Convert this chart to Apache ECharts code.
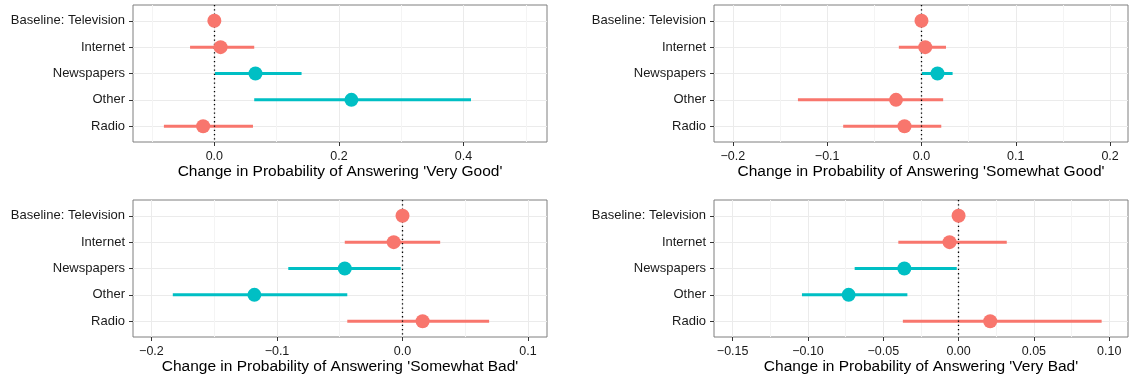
<!DOCTYPE html>
<html>
<head>
<meta charset="utf-8">
<script src="https://cdn.jsdelivr.net/npm/echarts@6/dist/echarts.min.js"></script>
<style>
  html, body { margin: 0; padding: 0; background: #ffffff; }
  #chart { width: 1132px; height: 379px; }
</style>
</head>
<body>
<div id="chart"></div>
<script>
// ---- Data ----
const categories = ['Baseline: Television', 'Internet', 'Newspapers', 'Other', 'Radio'];

const veryGoodEst  = [0, 0.010, 0.066, 0.220, -0.018];
const veryGoodLow  = [0, -0.039, 0.001, 0.064, -0.081];
const veryGoodHigh = [0, 0.064, 0.140, 0.412, 0.062];

const somewhatGoodEst  = [0, 0.004, 0.017, -0.027, -0.018];
const somewhatGoodLow  = [0, -0.024, 0.0005, -0.131, -0.083];
const somewhatGoodHigh = [0, 0.026, 0.033, 0.023, 0.021];

const somewhatBadEst  = [0, -0.007, -0.046, -0.118, 0.016];
const somewhatBadLow  = [0, -0.046, -0.091, -0.183, -0.044];
const somewhatBadHigh = [0, 0.030, -0.0015, -0.044, 0.069];

const veryBadEst  = [0, -0.006, -0.036, -0.073, 0.021];
const veryBadLow  = [0, -0.040, -0.069, -0.104, -0.037];
const veryBadHigh = [0, 0.032, -0.0012, -0.034, 0.095];

// axis limits and tick labels
const veryGoodRange = [-0.1306, 0.534];
const veryGoodTicks = [0, 0.2, 0.4];
const veryGoodMinor = [-0.1, 0.1, 0.3, 0.5];

const somewhatGoodRange = [-0.22, 0.219];
const somewhatGoodTicks = [-0.2, -0.1, 0, 0.1, 0.2];
const somewhatGoodMinor = [-0.15, -0.05, 0.05, 0.15];

const somewhatBadRange = [-0.2147, 0.1151];
const somewhatBadTicks = [-0.2, -0.1, 0, 0.1];
const somewhatBadMinor = [-0.15, -0.05, 0.05];

const veryBadRange = [-0.1624, 0.1125];
const veryBadTicks = [-0.15, -0.10, -0.05, 0, 0.05, 0.10];
const veryBadMinor = [-0.125, -0.075, -0.025, 0.025, 0.075];

const titles = [
  "Change in Probability of Answering 'Very Good'",
  "Change in Probability of Answering 'Somewhat Good'",
  "Change in Probability of Answering 'Somewhat Bad'",
  "Change in Probability of Answering 'Very Bad'"
];

// ---- Build chart ----
const panels = [
  { est: veryGoodEst, low: veryGoodLow, high: veryGoodHigh, range: veryGoodRange, ticks: veryGoodTicks, minor: veryGoodMinor, dec: 1 },
  { est: somewhatGoodEst, low: somewhatGoodLow, high: somewhatGoodHigh, range: somewhatGoodRange, ticks: somewhatGoodTicks, minor: somewhatGoodMinor, dec: 1 },
  { est: somewhatBadEst, low: somewhatBadLow, high: somewhatBadHigh, range: somewhatBadRange, ticks: somewhatBadTicks, minor: somewhatBadMinor, dec: 1 },
  { est: veryBadEst, low: veryBadLow, high: veryBadHigh, range: veryBadRange, ticks: veryBadTicks, minor: veryBadMinor, dec: 2 }
];

const layout = [
  { left: 133, top: 5, width: 414, height: 137 },
  { left: 714, top: 5, width: 414, height: 137 },
  { left: 133, top: 200, width: 414, height: 137 },
  { left: 714, top: 200, width: 414, height: 137 }
];

const RED = '#F8766D', TEAL = '#00BFC4';
const FONT = 'Liberation Sans, Arial, Helvetica, sans-serif';
const colorOf = (p, i) => (p.low[i] > 0 || p.high[i] < 0) ? TEAL : RED;
const fmt = d => v => (v < -1e-9 ? '\u2212' : '') + Math.abs(v).toFixed(d);

const grid = [], xAxis = [], yAxis = [], series = [];
const catIdx = categories.map((c, i) => i);

panels.forEach((p, k) => {
  grid.push(Object.assign({ show: true, borderColor: '#7F7F7F', borderWidth: 1, backgroundColor: '#ffffff', containLabel: false }, layout[k]));
  // major x axis
  xAxis.push({
    type: 'value', gridIndex: k, min: p.range[0], max: p.range[1], position: 'bottom',
    name: titles[k], nameLocation: 'middle', nameGap: 22,
    nameTextStyle: { fontFamily: FONT, fontSize: 15.5, color: '#000' },
    axisLine: { show: false, onZero: false },
    axisTick: { show: true, length: 4, lineStyle: { color: '#333333' }, customValues: p.ticks },
    axisLabel: { show: true, customValues: p.ticks, formatter: fmt(p.dec), fontFamily: FONT, fontSize: 12.5, color: '#1A1A1A', margin: 8 },
    splitLine: { show: true, lineStyle: { color: '#EBEBEB', width: 1 } }
  });
  // minor grid x axis
  xAxis.push({
    type: 'value', gridIndex: k, min: p.range[0], max: p.range[1], position: 'bottom',
    axisLine: { show: false, onZero: false },
    axisTick: { show: false, customValues: p.minor },
    axisLabel: { show: false },
    splitLine: { show: true, lineStyle: { color: '#F4F4F4', width: 1 } }
  });
  yAxis.push({
    type: 'value', gridIndex: k, min: -0.6, max: categories.length - 0.4, inverse: true, position: 'left',
    axisLine: { show: false, onZero: false },
    axisTick: { show: true, length: 4, lineStyle: { color: '#333333' }, customValues: catIdx },
    axisLabel: { show: true, customValues: catIdx, formatter: v => categories[Math.round(v)] || '', fontFamily: FONT, fontSize: 13, color: '#1A1A1A', margin: 8 },
    splitLine: { show: true, lineStyle: { color: '#EBEBEB', width: 1 } }
  });

  const pp = p;
  series.push({
    type: 'custom', xAxisIndex: 2 * k, yAxisIndex: k, silent: true, z: 3,
    encode: { x: [0, 2], y: 1 },
    data: categories.map((c, i) => [pp.low[i], i, pp.high[i]]),
    renderItem: (params, api) => {
      const i = api.value(1);
      const a = api.coord([api.value(0), i]);
      const b = api.coord([api.value(2), i]);
      return { type: 'line', shape: { x1: a[0], y1: a[1], x2: b[0], y2: b[1] }, style: { stroke: colorOf(pp, params.dataIndex), lineWidth: 3 } };
    }
  });
  series.push({
    type: 'scatter', xAxisIndex: 2 * k, yAxisIndex: k, silent: true, z: 5,
    symbolSize: 14,
    data: categories.map((c, i) => ({ value: [pp.est[i], i], itemStyle: { color: colorOf(pp, i), opacity: 1 } })),
    markLine: {
      silent: true, symbol: ['none', 'none'], label: { show: false }, z: 4,
      lineStyle: { type: [1.3, 3], color: '#000000', width: 1.3 },
      emphasis: { disabled: true },
      data: [{ xAxis: 0 }]
    }
  });
});

const chart = echarts.init(document.getElementById('chart'), null, { renderer: 'canvas' });
chart.setOption({ animation: false, grid, xAxis, yAxis, series });
</script>
</body>
</html>
